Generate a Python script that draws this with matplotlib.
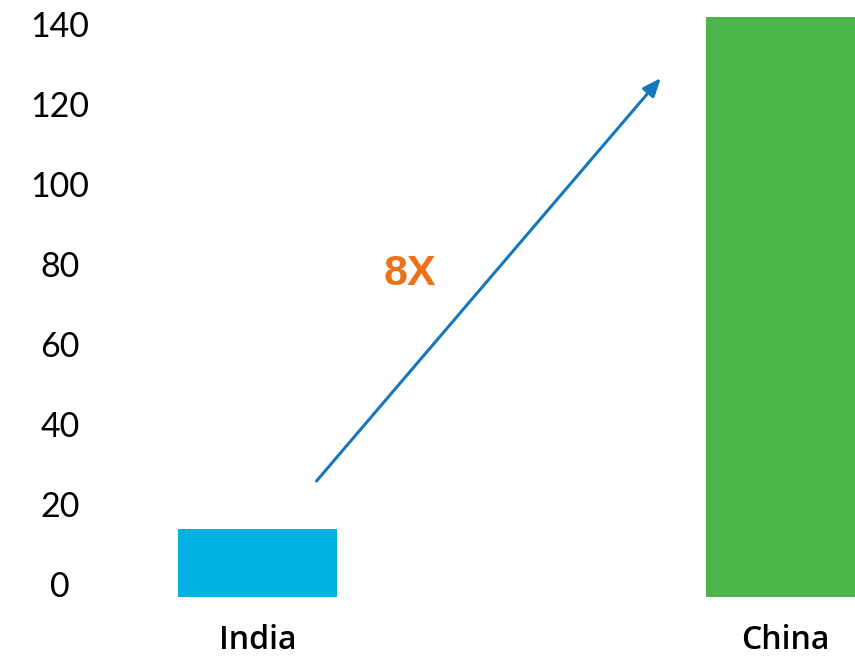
import matplotlib
matplotlib.use("Agg")
import matplotlib.pyplot as plt

categories = ["India", "China"]
values = [17, 145]
bar_colors = ["#00B1E2", "#4CB54C"]
yticks = [0, 20, 40, 60, 80, 100, 120, 140]
multiplier_label = "8X"

W, H = 855, 658
fig = plt.figure(figsize=(W / 100, H / 100), dpi=100)
left_px, right_px, bottom_px, top_px = 100, 855, 597, 17
ax = fig.add_axes([left_px / W, (H - bottom_px) / H,
                   (right_px - left_px) / W, (bottom_px - top_px) / H])

x = list(range(len(categories)))
ax.bar(x, values, width=0.301, color=bar_colors)
ax.set_xlim(-0.298, 1.1316)
ax.set_ylim(0, 145)

for s in ax.spines.values():
    s.set_visible(False)

ax.set_yticks(yticks)
ax.set_yticklabels([str(v) for v in yticks], fontsize=24.5, family="Lato")
ax.tick_params(axis="y", length=0, pad=28.8)
for lab in ax.get_yticklabels():
    lab.set_ha("center")
    lab.set_va("baseline")

ax.set_xticks(x)
ax.set_xticklabels(categories, fontsize=23, family="Open Sans", fontweight="semibold")
ax.tick_params(axis="x", length=0, pad=19.5)

ax.annotate("", xy=(0.764, 129.75), xytext=(0.112, 29),
            arrowprops=dict(arrowstyle="-|>,head_length=1.1,head_width=0.45",
                            color="#1777BC", lw=2.2, shrinkA=0, shrinkB=0))
ax.text(0.289, 80.75, multiplier_label, color="#EE7118", fontsize=31,
        fontweight="bold", family="Liberation Sans", ha="center", va="center")

fig.savefig("out.png", dpi=100)
